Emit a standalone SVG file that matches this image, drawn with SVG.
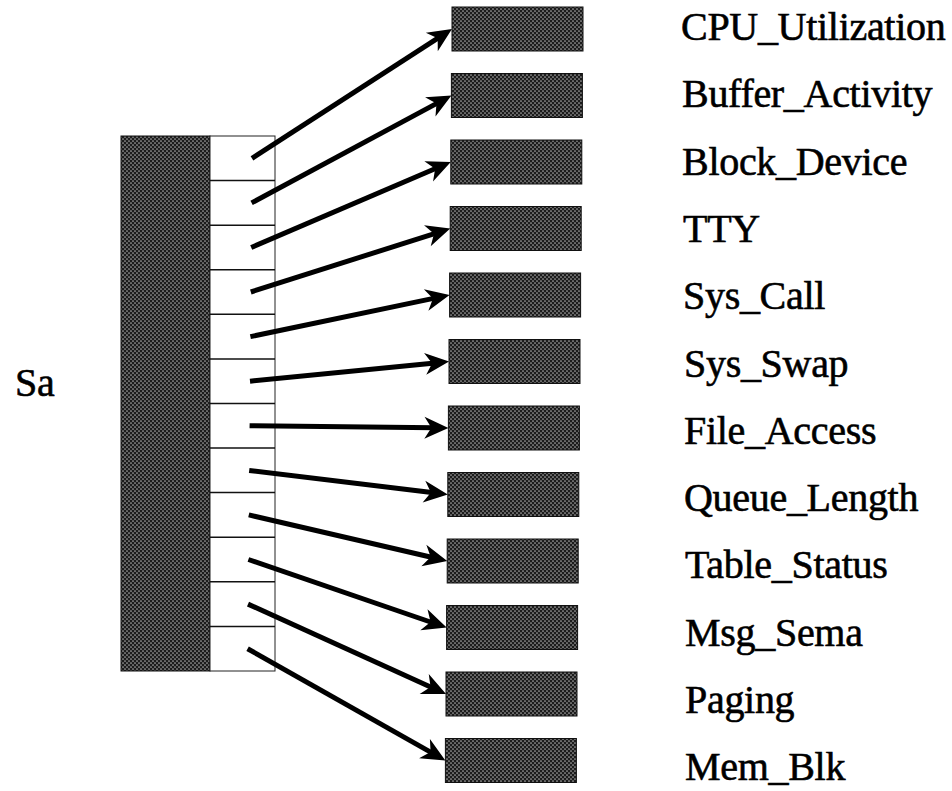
<svg xmlns="http://www.w3.org/2000/svg" width="952" height="791" viewBox="0 0 952 791">
  <style>
    .lbl { font-family: 'Liberation Serif', 'Times New Roman', serif; font-size: 40px; letter-spacing: -0.3px; fill: #000; stroke: #000; stroke-width: 0.6px; }
    .box { fill: url(#stipple); stroke: #111; stroke-width: 1; }
    .div { stroke: #111; stroke-width: 1.5; }
    .arrow { stroke: #000; stroke-width: 5; fill: none; marker-end: url(#head); }
  </style>
  <defs>
    <pattern id="stipple" width="4" height="4" patternUnits="userSpaceOnUse">
      <rect width="4" height="4" fill="#1c1c1c"/>
      <circle cx="1" cy="1" r="0.85" fill="#a8a8a8"/>
      <circle cx="3" cy="3" r="0.85" fill="#a8a8a8"/>
    </pattern>
    <marker id="head" markerUnits="userSpaceOnUse" markerWidth="26" markerHeight="24" viewBox="0 -12 26 24" refX="10" refY="0" orient="auto" overflow="visible">
      <path d="M0,-11 L24,0 L0,11 L7,0 Z" fill="#000"/>
    </marker>
  </defs>
  <rect width="952" height="791" fill="#fff"/>

  <g id="sa">
    <rect x="121" y="136" width="89" height="535" class="box"/>
    <rect x="210" y="136" width="65" height="535" fill="#fff" stroke="#222" stroke-width="1"/>
    <g id="sa-cells">
      <line class="div" x1="210" y1="180.6" x2="275" y2="180.6"/>
      <line class="div" x1="210" y1="225.2" x2="275" y2="225.2"/>
      <line class="div" x1="210" y1="269.7" x2="275" y2="269.7"/>
      <line class="div" x1="210" y1="314.3" x2="275" y2="314.3"/>
      <line class="div" x1="210" y1="358.9" x2="275" y2="358.9"/>
      <line class="div" x1="210" y1="403.5" x2="275" y2="403.5"/>
      <line class="div" x1="210" y1="448.1" x2="275" y2="448.1"/>
      <line class="div" x1="210" y1="492.6" x2="275" y2="492.6"/>
      <line class="div" x1="210" y1="537.2" x2="275" y2="537.2"/>
      <line class="div" x1="210" y1="581.8" x2="275" y2="581.8"/>
      <line class="div" x1="210" y1="626.4" x2="275" y2="626.4"/>
    </g>
    <text class="lbl" x="15" y="396">Sa</text>
  </g>

  <g id="n1"><rect class="box" x="452" y="7" width="131" height="44"/><text class="lbl" x="681" y="40">CPU_Utilization</text></g>
  <g id="n2"><rect class="box" x="451.4" y="73.5" width="131" height="44"/><text class="lbl" x="682" y="107.3">Buffer_Activity</text></g>
  <g id="n3"><rect class="box" x="450.8" y="140" width="131" height="44"/><text class="lbl" x="682" y="174.6">Block_Device</text></g>
  <g id="n4"><rect class="box" x="450.2" y="206.5" width="131" height="44"/><text class="lbl" x="683" y="241.9">TTY</text></g>
  <g id="n5"><rect class="box" x="449.6" y="273" width="131" height="44"/><text class="lbl" x="683" y="309.2">Sys_Call</text></g>
  <g id="n6"><rect class="box" x="449" y="339.5" width="131" height="44"/><text class="lbl" x="684" y="376.5">Sys_Swap</text></g>
  <g id="n7"><rect class="box" x="448.4" y="406" width="131" height="44"/><text class="lbl" x="684" y="443.8">File_Access</text></g>
  <g id="n8"><rect class="box" x="447.8" y="472.5" width="131" height="44"/><text class="lbl" x="684" y="511.1">Queue_Length</text></g>
  <g id="n9"><rect class="box" x="447.2" y="539" width="131" height="44"/><text class="lbl" x="685" y="578.4">Table_Status</text></g>
  <g id="n10"><rect class="box" x="446.6" y="605.5" width="131" height="44"/><text class="lbl" x="685" y="645.7">Msg_Sema</text></g>
  <g id="n11"><rect class="box" x="446" y="672" width="131" height="44"/><text class="lbl" x="685" y="713">Paging</text></g>
  <g id="n12"><rect class="box" x="445.4" y="738.5" width="131" height="44"/><text class="lbl" x="685" y="780.3">Mem_Blk</text></g>

  <g id="connectors">
    <line class="arrow" x1="252" y1="158.3" x2="440.2" y2="36.6"/>
    <line class="arrow" x1="251.6" y1="202.9" x2="439.1" y2="102.1"/>
    <line class="arrow" x1="251.2" y1="247.5" x2="437.9" y2="167.5"/>
    <line class="arrow" x1="250.8" y1="292.0" x2="436.9" y2="232.8"/>
    <line class="arrow" x1="250.4" y1="336.6" x2="435.9" y2="297.9"/>
    <line class="arrow" x1="250" y1="381.2" x2="435.1" y2="362.9"/>
    <line class="arrow" x1="249.6" y1="425.8" x2="434.4" y2="427.8"/>
    <line class="arrow" x1="249.2" y1="470.4" x2="433.9" y2="492.8"/>
    <line class="arrow" x1="248.8" y1="514.9" x2="433.6" y2="557.8"/>
    <line class="arrow" x1="248.4" y1="559.5" x2="433.4" y2="623.0"/>
    <line class="arrow" x1="248" y1="604.1" x2="433.3" y2="688.2"/>
    <line class="arrow" x1="247.6" y1="648.7" x2="433.2" y2="753.6"/>
  </g>
</svg>
